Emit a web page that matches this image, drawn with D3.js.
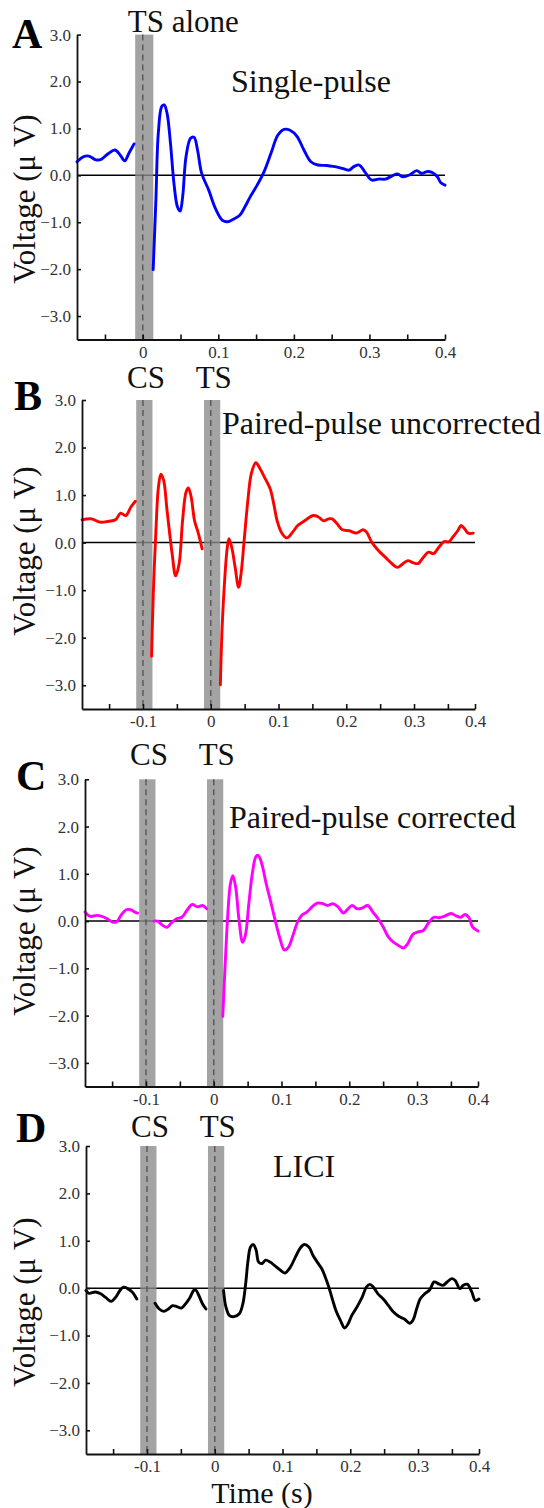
<!DOCTYPE html>
<html>
<head>
<meta charset="utf-8">
<script src="https://cdn.jsdelivr.net/npm/d3@7"></script>
<style>
  body { margin: 0; background: #fff; }
  text { font-family: "Liberation Serif", "Times New Roman", serif; }
</style>
</head>
<body>
<svg id="figura" width="544" height="1508"></svg>
<script>
'use strict';

// Ejes y marcas
const voltTicks = [3, 2, 1, 0, -1, -2, -3];
const voltDominio = [-3.5, 3.0];
const tiempoDominioA = [-0.087, 0.4];
const tiempoDominioPP = [-0.19, 0.39];
const tiempoTicksA = [-0.05, 0, 0.05, 0.1, 0.15, 0.2, 0.25, 0.3, 0.35, 0.4];
const tiempoEtiquetasA = ['', '0', '', '0.1', '', '0.2', '', '0.3', '', '0.4'];
const tiempoTicksPP = [-0.15, -0.1, -0.05, 0, 0.05, 0.1, 0.15, 0.2, 0.25, 0.3, 0.35, 0.39];
const tiempoEtiquetasPP = ['', '-0.1', '', '0', '', '0.1', '', '0.2', '', '0.3', '', '0.4'];

// Estímulos (s) y ancho de la banda gris alrededor de cada uno
const estimulosA = [0];
const nombresA = ['TS alone'];
const estimulosPP = [-0.1, 0];
const nombresPP = ['CS', 'TS'];
const bandaAntes = 0.01;
const bandaDespues = 0.014;

// Señales [tiempo (s), voltaje (µV)]; null = hueco dentro de la banda
const senalA = [
  [-0.087, 0.29], [-0.078, 0.40], [-0.0711, 0.41], [-0.0619, 0.33], [-0.055, 0.34],
  [-0.0459, 0.46], [-0.0367, 0.54], [-0.0298, 0.43], [-0.0239, 0.31], [-0.0183, 0.47],
  [-0.0115, 0.67], null,
  [0.0138, -2.01], [0.0174, -0.53], [0.0206, 0.90], [0.0252, 1.47], [0.0284, 1.50],
  [0.0321, 1.33], [0.0367, 0.68], [0.0413, -0.17], [0.0459, -0.67], [0.0495, -0.76],
  [0.0528, -0.46], [0.0573, 0.40], [0.0633, 0.79], [0.0679, 0.81], [0.0725, 0.54],
  [0.078, 0.04], [0.0872, -0.31], [0.0963, -0.71], [0.1055, -0.96], [0.1124, -0.99],
  [0.1193, -0.94], [0.1284, -0.85], [0.1353, -0.67], [0.1422, -0.46], [0.1514, -0.21],
  [0.1606, 0.08], [0.1697, 0.47], [0.1789, 0.86], [0.1872, 0.98], [0.195, 0.96],
  [0.2041, 0.83], [0.2133, 0.54], [0.2225, 0.29], [0.2317, 0.22], [0.2431, 0.21],
  [0.2523, 0.19], [0.2638, 0.15], [0.2729, 0.11], [0.2798, 0.19], [0.2867, 0.22],
  [0.2936, 0.08], [0.3028, -0.10], [0.3119, -0.08], [0.3211, -0.08], [0.3303, -0.01],
  [0.3372, 0.03], [0.344, -0.03], [0.3532, 0.01], [0.3624, 0.10], [0.3693, 0.04],
  [0.3761, 0.08], [0.383, 0.06], [0.3899, -0.03], [0.3945, -0.16], [0.4, -0.21]
];

const senalB = [
  [-0.19, 0.48], [-0.1761, 0.50], [-0.1635, 0.43], [-0.1508, 0.45], [-0.1406, 0.48],
  [-0.133, 0.62], [-0.1254, 0.57], [-0.1178, 0.75], [-0.1112, 0.87], null,
  [-0.0873, -2.39], [-0.0848, -1.08], [-0.0807, 0.32], [-0.0772, 1.17], [-0.0736, 1.44],
  [-0.0695, 1.31], [-0.0645, 0.68], [-0.0569, -0.24], [-0.0518, -0.70], [-0.0467, -0.45],
  [-0.0416, 0.46], [-0.0365, 1.06], [-0.033, 1.15], [-0.0289, 0.96], [-0.0239, 0.46],
  [-0.0188, 0.22], [-0.0127, -0.13], null,
  [0.0142, -2.99], [0.0168, -1.79], [0.0208, -0.73], [0.0244, -0.10], [0.0269, 0.08],
  [0.031, -0.10], [0.036, -0.52], [0.0411, -0.94], [0.0447, -0.66], [0.0497, 0.11],
  [0.0548, 0.89], [0.0599, 1.45], [0.0665, 1.68], [0.0726, 1.56], [0.0802, 1.35],
  [0.0878, 1.13], [0.0929, 0.82], [0.098, 0.46], [0.1041, 0.22], [0.1122, 0.10],
  [0.1208, 0.22], [0.1284, 0.36], [0.1386, 0.46], [0.1513, 0.57], [0.1589, 0.54],
  [0.1665, 0.46], [0.1741, 0.50], [0.1792, 0.50], [0.1868, 0.39], [0.1944, 0.27],
  [0.2046, 0.25], [0.2147, 0.20], [0.2249, 0.27], [0.23, 0.22], [0.2376, 0.01],
  [0.2477, -0.17], [0.2579, -0.31], [0.268, -0.45], [0.2756, -0.52], [0.2832, -0.45],
  [0.2909, -0.38], [0.2985, -0.42], [0.3061, -0.44], [0.3137, -0.31], [0.3213, -0.20],
  [0.3289, -0.23], [0.3365, -0.10], [0.3442, 0.02], [0.3518, 0.02], [0.3569, 0.11],
  [0.3645, 0.25], [0.3695, 0.36], [0.3746, 0.29], [0.3797, 0.20], [0.3873, 0.20]
];

const senalC = [
  [-0.19, 0.19], [-0.1821, 0.10], [-0.1728, 0.12], [-0.1651, 0.10], [-0.1574, 0.05],
  [-0.1497, -0.02], [-0.1436, -0.02], [-0.1369, 0.12], [-0.1292, 0.24], [-0.1226, 0.24],
  [-0.1164, 0.19], [-0.1123, 0.17], null,
  [-0.0882, 0.0], [-0.0831, 0.0], [-0.0754, -0.09], [-0.0692, -0.13], [-0.0626, -0.04],
  [-0.0549, 0.05], [-0.0472, 0.08], [-0.0395, 0.23], [-0.0318, 0.35], [-0.0241, 0.30],
  [-0.0164, 0.33], [-0.0103, 0.26], null,
  [0.0133, -2.02], [0.0169, -0.91], [0.0205, 0.08], [0.0246, 0.79], [0.0282, 0.96],
  [0.0323, 0.72], [0.0374, 0.01], [0.0426, -0.45], [0.0467, -0.30], [0.0518, 0.37],
  [0.0569, 1.00], [0.0621, 1.36], [0.0656, 1.39], [0.0708, 1.22], [0.0774, 0.79],
  [0.0836, 0.44], [0.0913, -0.02], [0.0979, -0.38], [0.1041, -0.61], [0.1103, -0.55],
  [0.1169, -0.30], [0.1236, -0.02], [0.1297, 0.12], [0.1374, 0.19], [0.1451, 0.30],
  [0.1528, 0.38], [0.1605, 0.37], [0.1682, 0.33], [0.1759, 0.37], [0.1836, 0.30],
  [0.1913, 0.17], [0.1964, 0.23], [0.2041, 0.33], [0.2118, 0.26], [0.2195, 0.28],
  [0.2272, 0.33], [0.2349, 0.19], [0.2426, 0.05], [0.2503, -0.13], [0.2579, -0.34],
  [0.2656, -0.45], [0.2733, -0.52], [0.28, -0.57], [0.2862, -0.48], [0.2938, -0.28],
  [0.3015, -0.23], [0.3092, -0.20], [0.3169, -0.04], [0.3246, 0.08], [0.3323, 0.07],
  [0.34, 0.10], [0.3503, 0.16], [0.3579, 0.11], [0.3646, 0.08], [0.3708, 0.14],
  [0.3769, 0.07], [0.3821, -0.13], [0.39, -0.21]
];

const senalD = [
  [-0.19, -0.05], [-0.1855, -0.11], [-0.1762, -0.08], [-0.1684, -0.12], [-0.1606, -0.20],
  [-0.1528, -0.28], [-0.1461, -0.19], [-0.1399, -0.05], [-0.1347, 0.02], [-0.1285, -0.01],
  [-0.1218, -0.08], [-0.115, -0.23], null,
  [-0.0881, -0.32], [-0.0819, -0.44], [-0.0751, -0.49], [-0.0684, -0.44], [-0.0622, -0.37],
  [-0.056, -0.39], [-0.0492, -0.42], [-0.0425, -0.32], [-0.0363, -0.19], [-0.0311, -0.05],
  [-0.028, -0.04], [-0.0233, -0.16], [-0.0181, -0.33], [-0.013, -0.44], null,
  [0.013, -0.05], [0.0166, -0.40], [0.0218, -0.58], [0.0285, -0.60], [0.0363, -0.54],
  [0.0415, -0.33], [0.0456, 0.09], [0.0492, 0.59], [0.0528, 0.87], [0.057, 0.92],
  [0.0611, 0.80], [0.0648, 0.55], [0.0699, 0.52], [0.0751, 0.59], [0.0819, 0.55],
  [0.0881, 0.48], [0.0959, 0.39], [0.1036, 0.32], [0.1114, 0.44], [0.1192, 0.66],
  [0.1254, 0.83], [0.1321, 0.92], [0.1389, 0.87], [0.1451, 0.69], [0.1513, 0.55],
  [0.158, 0.41], [0.1632, 0.23], [0.1684, 0.02], [0.1736, -0.23], [0.1788, -0.47],
  [0.1855, -0.68], [0.1917, -0.84], [0.1969, -0.75], [0.2021, -0.58], [0.2098, -0.40],
  [0.2176, -0.19], [0.2238, 0.02], [0.229, 0.08], [0.2342, 0.02], [0.2409, -0.12],
  [0.2487, -0.23], [0.2565, -0.37], [0.2642, -0.51], [0.272, -0.60], [0.2798, -0.65],
  [0.2876, -0.74], [0.2927, -0.67], [0.2979, -0.44], [0.3031, -0.23], [0.3098, -0.12],
  [0.3171, -0.04], [0.3238, 0.13], [0.3306, 0.09], [0.3368, 0.06], [0.343, 0.13],
  [0.3497, 0.20], [0.3549, 0.16], [0.3617, -0.01], [0.3668, 0.06], [0.3731, 0.08],
  [0.3793, -0.08], [0.3845, -0.26], [0.39, -0.23]
];

// Disposición de cada panel en la figura
const paneles = [
  { letra: 'A', letraX: 12, letraY: 48, senal: senalA, color: '#0000ff',
    x0: 77, x1: 445, y0: 34.6, y1: 339.5,
    dominio: tiempoDominioA, ticks: tiempoTicksA, etiquetas: tiempoEtiquetasA,
    estimulos: estimulosA, nombres: nombresA, nombreY: 32, nombreAncla: 'start', nombreDx: -15,
    titulo: 'Single-pulse', tituloX: 231, tituloY: 92, voltY: 199 },
  { letra: 'B', letraX: 14, letraY: 410, senal: senalB, color: '#ff0000',
    x0: 82, x1: 475, y0: 400, y1: 709,
    dominio: tiempoDominioPP, ticks: tiempoTicksPP, etiquetas: tiempoEtiquetasPP,
    estimulos: estimulosPP, nombres: nombresPP, nombreY: 388, nombreAncla: 'middle', nombreDx: 3,
    titulo: 'Paired-pulse uncorrected', tituloX: 222, tituloY: 434, voltY: 551 },
  { letra: 'C', letraX: 16, letraY: 790, senal: senalC, color: '#ff00ff',
    x0: 85, x1: 478, y0: 779.3, y1: 1086.5,
    dominio: tiempoDominioPP, ticks: tiempoTicksPP, etiquetas: tiempoEtiquetasPP,
    estimulos: estimulosPP, nombres: nombresPP, nombreY: 765, nombreAncla: 'middle', nombreDx: 3,
    titulo: 'Paired-pulse corrected', tituloX: 229, tituloY: 828, voltY: 931 },
  { letra: 'D', letraX: 16, letraY: 1142, senal: senalD, color: '#000000',
    x0: 86, x1: 479, y0: 1146, y1: 1454,
    dominio: tiempoDominioPP, ticks: tiempoTicksPP, etiquetas: tiempoEtiquetasPP,
    estimulos: estimulosPP, nombres: nombresPP, nombreY: 1137, nombreAncla: 'middle', nombreDx: 3,
    titulo: 'LICI', tituloX: 273, tituloY: 1177, voltY: 1302 }
];

(function() {
  const svg = d3.select('#figura');
  svg.append('rect').attr('width', 544).attr('height', 1508).attr('fill', '#fff');

  paneles.forEach(function(p) {
    const x = d3.scaleLinear().domain(p.dominio).range([p.x0, p.x1]);
    const y = d3.scaleLinear().domain(voltDominio).range([p.y1, p.y0]);
    const g = svg.append('g');

    // Línea de cero
    g.append('line')
      .attr('x1', p.x0).attr('x2', p.x1)
      .attr('y1', y(0)).attr('y2', y(0))
      .attr('stroke', '#000').attr('stroke-width', 1.5);

    // Bandas grises y línea discontinua en cada estímulo
    p.estimulos.forEach(function(t, i) {
      g.append('rect')
        .attr('x', x(t - bandaAntes))
        .attr('width', x(t + bandaDespues) - x(t - bandaAntes))
        .attr('y', y(3.0))
        .attr('height', y(-3.5) - y(3.0))
        .attr('fill', '#8c8c8c').attr('opacity', 0.8);
      g.append('line')
        .attr('x1', x(t)).attr('x2', x(t))
        .attr('y1', y(3.0)).attr('y2', y(-3.5))
        .attr('stroke', '#555').attr('stroke-width', 1.4)
        .attr('stroke-dasharray', '6,4');
      g.append('text')
        .attr('x', x(t) + p.nombreDx).attr('y', p.nombreY)
        .attr('text-anchor', p.nombreAncla)
        .attr('font-size', 31).attr('fill', '#111')
        .text(p.nombres[i]);
    });

    // Señal
    const linea = d3.line()
      .defined(function(d) { return d !== null; })
      .x(function(d) { return x(d[0]); })
      .y(function(d) { return y(d[1]); })
      .curve(d3.curveCatmullRom.alpha(0.5));
    g.append('path')
      .datum(p.senal)
      .attr('d', linea)
      .attr('fill', 'none')
      .attr('stroke', p.color)
      .attr('stroke-width', 2.9)
      .attr('stroke-linejoin', 'round')
      .attr('stroke-linecap', 'round');

    // Ejes
    const ejeY = d3.axisLeft(y).tickValues(voltTicks)
      .tickSizeInner(-4).tickSizeOuter(0).tickPadding(6)
      .tickFormat(d3.format('.1f'));
    const gy = g.append('g').attr('transform', 'translate(' + p.x0 + ',0)').call(ejeY);

    const ejeX = d3.axisBottom(x).tickValues(p.ticks)
      .tickSizeInner(-5).tickSizeOuter(0).tickPadding(6)
      .tickFormat(function(d, i) { return p.etiquetas[i]; });
    const gx = g.append('g').attr('transform', 'translate(0,' + p.y1 + ')').call(ejeX);

    [gy, gx].forEach(function(eje) {
      eje.select('.domain').attr('stroke', '#111').attr('stroke-width', 1.8);
      eje.selectAll('.tick line').attr('stroke', '#111').attr('stroke-width', 1.6);
      eje.selectAll('.tick text')
        .attr('font-family', '"Liberation Serif", "Times New Roman", serif')
        .attr('font-size', 17).attr('fill', '#333');
    });

    // Textos del panel
    g.append('text')
      .attr('x', p.letraX).attr('y', p.letraY)
      .attr('font-size', 42).attr('font-weight', 'bold').attr('fill', '#000')
      .text(p.letra);
    g.append('text')
      .attr('x', p.tituloX).attr('y', p.tituloY)
      .attr('font-size', 32).attr('fill', '#111')
      .text(p.titulo);
    g.append('text')
      .attr('transform', 'translate(35,' + p.voltY + ') rotate(-90)')
      .attr('text-anchor', 'middle')
      .attr('font-size', 31).attr('fill', '#111')
      .text('Voltage (μ V)');
  });

  // Título del eje de tiempo, sólo bajo el último panel
  svg.append('text')
    .attr('x', 262).attr('y', 1503)
    .attr('text-anchor', 'middle')
    .attr('font-size', 30).attr('fill', '#111')
    .text('Time (s)');
})();
</script>
</body>
</html>
